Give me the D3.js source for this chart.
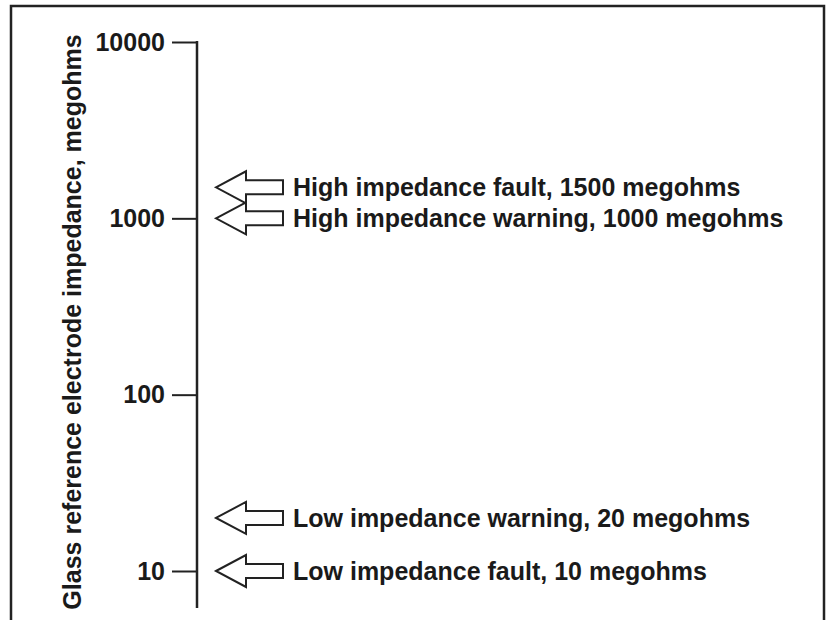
<!DOCTYPE html>
<html>
<head>
<meta charset="utf-8">
<script src="https://cdn.jsdelivr.net/npm/d3@7"></script>
<style>
  body { margin: 0; background: #fff; }
  text { font-family: "Liberation Sans", Arial, sans-serif; font-weight: bold; fill: #1a1a1a; }
</style>
</head>
<body>
<svg id="chart"></svg>
<script>
// impedance scale ticks (megohms)
const tickValues = [10, 100, 1000, 10000];
// alarm thresholds
const markerValues = [1500, 1000, 20, 10];
const markerLabels = [
  "High impedance fault, 1500 megohms",
  "High impedance warning, 1000 megohms",
  "Low impedance warning, 20 megohms",
  "Low impedance fault, 10 megohms"
];
const axisTitle = "Glass reference electrode impedance, megohms";

const width = 827, height = 620;
const axisX = 197;
const fontSize = "25px";

const svg = d3.select("#chart")
  .attr("width", width)
  .attr("height", height);

// frame
svg.append("rect")
  .attr("x", 11).attr("y", 6)
  .attr("width", 813).attr("height", 640)
  .attr("fill", "none")
  .attr("stroke", "#222")
  .attr("stroke-width", 2.5);

var y = d3.scaleLog()
  .domain([10, 10000])
  .range([571, 42]);

var axis = svg.append("g")
  .attr("transform", `translate(${axisX},0)`)
  .call(d3.axisLeft(y)
    .tickValues(tickValues)
    .tickSize(25)
    .tickPadding(7)
    .tickFormat(d3.format("d")));

axis.select(".domain").remove();
axis.selectAll(".tick line")
  .attr("stroke", "#222")
  .attr("stroke-width", 2);
axis.selectAll(".tick text")
  .style("font-size", fontSize)
  .attr("fill", "#1a1a1a");

// vertical scale line, runs a bit past the lowest tick
svg.append("line")
  .attr("x1", axisX).attr("x2", axisX)
  .attr("y1", y(10000) - 1)
  .attr("y2", y(10) + 37)
  .attr("stroke", "#222")
  .attr("stroke-width", 2.5);

svg.append("text")
  .attr("transform", `translate(72,${322}) rotate(-90)`)
  .attr("text-anchor", "middle")
  .attr("dominant-baseline", "central")
  .style("font-size", fontSize)
  .text(axisTitle);

// hollow arrows pointing at the scale
const tipX = 216;
function arrowPath(cy) {
  return `M${tipX},${cy} L${tipX + 30},${cy - 16} L${tipX + 30},${cy - 7}` +
    ` L${tipX + 67},${cy - 7} L${tipX + 67},${cy + 7} L${tipX + 30},${cy + 7}` +
    ` L${tipX + 30},${cy + 16} Z`;
}

var markers = svg.append("g")
  .selectAll("g")
  .data(markerValues.map((v, i) => ({ value: v, label: markerLabels[i] })))
  .join("g");

markers.append("path")
  .attr("d", d => arrowPath(y(d.value)))
  .attr("fill", "#fff")
  .attr("stroke", "#222")
  .attr("stroke-width", 2)
  .attr("stroke-linejoin", "miter");

markers.append("text")
  .attr("x", tipX + 77)
  .attr("y", d => y(d.value))
  .attr("dominant-baseline", "central")
  .style("font-size", fontSize)
  .text(d => d.label);
</script>
</body>
</html>
